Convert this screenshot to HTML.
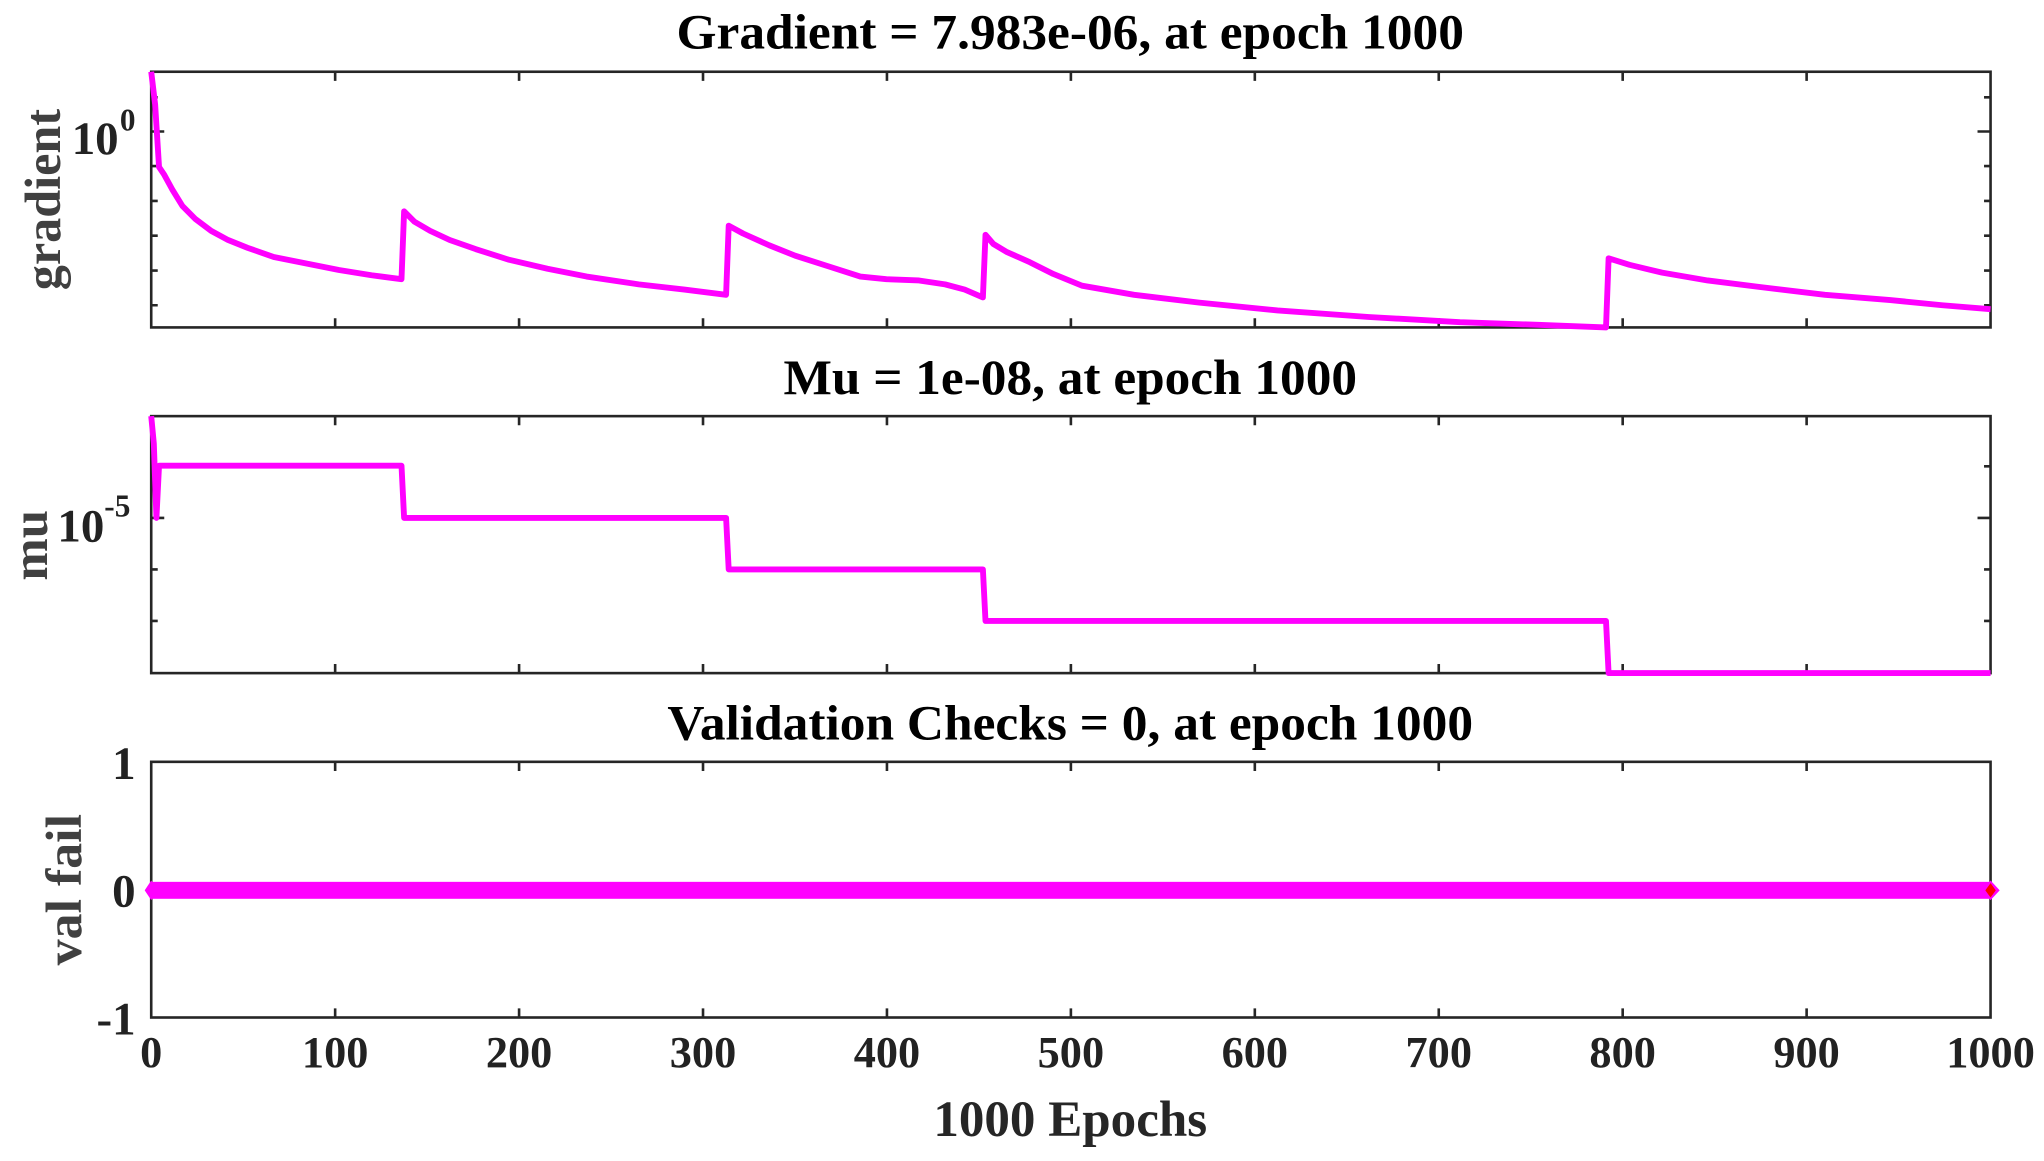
<!DOCTYPE html>
<html><head><meta charset="utf-8"><style>
html,body{margin:0;padding:0;background:#fff;width:2044px;height:1161px;overflow:hidden}
svg{display:block}
text{font-family:"Liberation Serif",serif;font-weight:bold}
</style></head><body>
<svg width="2044" height="1161" viewBox="0 0 1568 890" preserveAspectRatio="none" xmlns="http://www.w3.org/2000/svg">
<rect width="1568" height="890" fill="#fff"/>
<g fill="#000" font-size="38" text-anchor="middle">
<text x="821" y="37" textLength="604" lengthAdjust="spacingAndGlyphs">Gradient = 7.983e-06, at epoch 1000</text>
<text x="821" y="302" textLength="440" lengthAdjust="spacingAndGlyphs">Mu = 1e-08, at epoch 1000</text>
<text x="821" y="567" textLength="618" lengthAdjust="spacingAndGlyphs">Validation Checks = 0, at epoch 1000</text>
</g>
<g fill="#404040" font-size="39" text-anchor="middle">
<text transform="translate(46,153) rotate(-90)" textLength="139" lengthAdjust="spacingAndGlyphs">gradient</text>
<text transform="translate(36,418) rotate(-90)">mu</text>
<text transform="translate(62,682) rotate(-90)" textLength="116" lengthAdjust="spacingAndGlyphs">val fail</text>
<text x="821" y="871" fill="#262626" textLength="210" lengthAdjust="spacingAndGlyphs">1000 Epochs</text>
</g>
<g stroke="#262626" stroke-width="2" fill="none">
<rect x="116" y="55" width="1411" height="196"/>
<rect x="116" y="319" width="1411" height="197"/>
<rect x="116" y="584" width="1411" height="196"/>
<path d="M257.1 55v7M398.2 55v7M539.3 55v7M680.4 55v7M821.5 55v7M962.6 55v7M1103.7 55v7M1244.8 55v7M1385.9 55v7
M257.1 251v-7M398.2 251v-7M539.3 251v-7M680.4 251v-7M821.5 251v-7M962.6 251v-7M1103.7 251v-7M1244.8 251v-7M1385.9 251v-7
M257.1 319v7M398.2 319v7M539.3 319v7M680.4 319v7M821.5 319v7M962.6 319v7M1103.7 319v7M1244.8 319v7M1385.9 319v7
M257.1 516v-7M398.2 516v-7M539.3 516v-7M680.4 516v-7M821.5 516v-7M962.6 516v-7M1103.7 516v-7M1244.8 516v-7M1385.9 516v-7
M257.1 584v7M398.2 584v7M539.3 584v7M680.4 584v7M821.5 584v7M962.6 584v7M1103.7 584v7M1244.8 584v7M1385.9 584v7
M257.1 780v-7M398.2 780v-7M539.3 780v-7M680.4 780v-7M821.5 780v-7M962.6 780v-7M1103.7 780v-7M1244.8 780v-7M1385.9 780v-7"/>
<path d="M116 74.6h5M116 100.8h10M116 127.3h5M116 154h5M116 180.7h5M116 207.4h5M116 234h5
M1527 74.6h-5M1527 100.8h-10M1527 127.3h-5M1527 154h-5M1527 180.7h-5M1527 207.4h-5M1527 234h-5"/>
<path d="M116 357.5h5M116 397h10M116 436.5h5M116 476h5
M1527 357.5h-5M1527 397h-10M1527 436.5h-5M1527 476h-5"/>
<path d="M116 682h7M1527 682h-7"/>
</g>
<g fill="#222" font-size="36">
<text x="91" y="118" text-anchor="end">10</text><text x="92" y="100" font-size="24">0</text>
<text x="80" y="415" text-anchor="end">10</text><text x="80" y="396" font-size="24">-5</text>
<text x="104" y="597" text-anchor="end">1</text>
<text x="104" y="695" text-anchor="end">0</text>
<text x="104" y="793" text-anchor="end">-1</text>
</g>
<g fill="#222" font-size="34" text-anchor="middle">
<text x="116" y="818">0</text><text x="257.1" y="818">100</text><text x="398.2" y="818">200</text><text x="539.3" y="818">300</text><text x="680.4" y="818">400</text><text x="821.5" y="818">500</text><text x="962.6" y="818">600</text><text x="1103.7" y="818">700</text><text x="1244.8" y="818">800</text><text x="1385.9" y="818">900</text><text x="1527" y="818">1000</text>
</g>
<g stroke="#ff00ff" stroke-width="4.5" fill="none" stroke-linejoin="round">
<path d="M116 55L119 80L122 128L126 134L132 145L140 158L150 168L162 177L175 184L190 190L210 197L235 202L260 207L285 211L308 214L310 162L318 170L330 177L345 184L365 191L390 199L420 206L450 212L490 218L525 222L557 226L559 173L570 179L590 188L610 196L635 204L660 212L680 214L705 215L725 218L740 222L754 228L756 180L762 187L772 193L790 201L808 210L830 219L870 226L920 232L980 238L1050 243L1120 247L1180 249L1232 251L1234 198L1250 203L1275 209L1310 215L1350 220L1400 226L1450 230L1490 234L1527 237"/>
<path d="M116 319L118 340L120 397L122 357H308L310 397H557L559 436.5H754L756 476H1232L1234 516H1527"/>
</g>
<rect x="116" y="676" width="1411" height="13" fill="#ff00ff"/>
<path d="M111 682.5L116 675L121 682.5L116 690Z" fill="#ff00ff"/>
<path d="M1520 682.5L1527 675L1534 682.5L1527 690Z" fill="#ff00ff"/>
<path d="M1523 682.5L1527 677L1531 682.5L1527 688Z" fill="#ff0000"/>
</svg>
</body></html>
